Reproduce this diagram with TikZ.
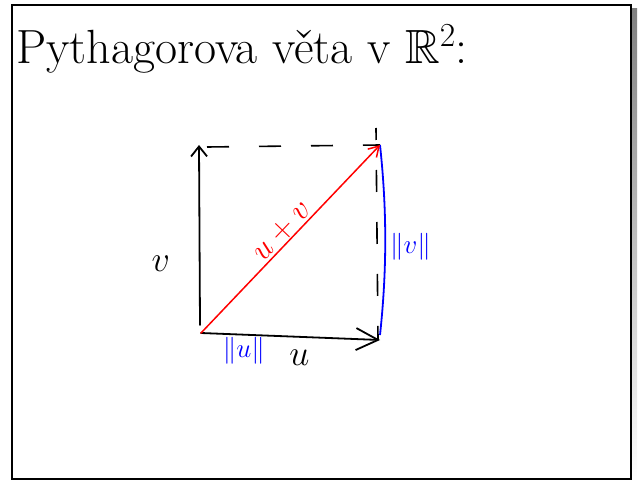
\documentclass[tikz,border=0pt]{standalone}
\usepackage{fix-cm}
\usepackage{amssymb}
\usetikzlibrary{arrows.meta, positioning, calc}
\definecolor{ink}{HTML}{000000}
\definecolor{pen}{HTML}{FF0000}
\definecolor{mark}{HTML}{0000FF}
\definecolor{shade}{HTML}{8C8C8C}

\begin{document}
\begin{tikzpicture}[x=1pt, y=-1pt,
      vec/.style={draw=ink, line width=1.8pt, line cap=round},
      sumvec/.style={draw=pen, line width=1.5pt, line cap=round},
      helper/.style={draw=ink, line width=1.6pt, dash pattern=on 22pt off 30pt},
      lbl/.style={font=\fontsize{36}{40}\selectfont, inner sep=1pt},
      normlbl/.style={lbl, font=\fontsize{27}{30}\selectfont, text=mark}]
    \useasboundingbox (0,0) rectangle (639,481);
    % page frame with its shadow
    \fill[shade] (632,9) rectangle (637,481);
    \draw[ink, line width=2.4pt] (12,5) rectangle (631,479);
    \node[anchor=base west, inner sep=0pt, font=\fontsize{48}{54}\selectfont] (title) at (16,64)
      {Pythagorova věta v $\mathbb{R}^2$:};
    % corners of the square
    \coordinate (o) at (201,333);
    \coordinate (u) at (380,340);
    \coordinate (v) at (199,145);
    \coordinate (w) at (380,145);
    \coordinate (wtop) at (376,128);
    \draw[helper] ($(v)+(8,2)$) -- (w);
    \draw[helper, dash phase=10pt] (wtop) -- ($(u)+(-2,0)$);
    \draw[vec, -{Straight Barb[length=22pt, width=22pt, line width=1.8pt]}] (o) -- (u);
    \draw[vec, -{Straight Barb[length=10pt, width=16pt, line width=1.8pt]}] ($(o)+(-1,-8)$) -- (v);
    \draw[draw=mark, line width=1.8pt] (w) .. controls (387,210) and (387,270) .. ($(u)+(0,-5)$);
    \draw[sumvec, -{Straight Barb[length=10pt, width=12pt, line width=1.5pt]}] (o) --
      node[lbl, font=\fontsize{32}{36}\selectfont, text=pen, sloped, above=0pt, pos=0.5] (sum) {$u+v$} (w);
    \node[lbl, left=29pt of $(o)!0.37!(v)$] (vname) {$v$};
    \node[lbl, below=12pt of $(o)!0.55!(u)$] (uname) {$u$};
    \node[normlbl, below=1pt of $(o)!0.24!(u)$] (unorm) {$\|u\|$};
    \node[normlbl, right=9pt of $(w)!0.52!(u)$] (vnorm) {$\|v\|$};
  \end{tikzpicture}
\end{document}
